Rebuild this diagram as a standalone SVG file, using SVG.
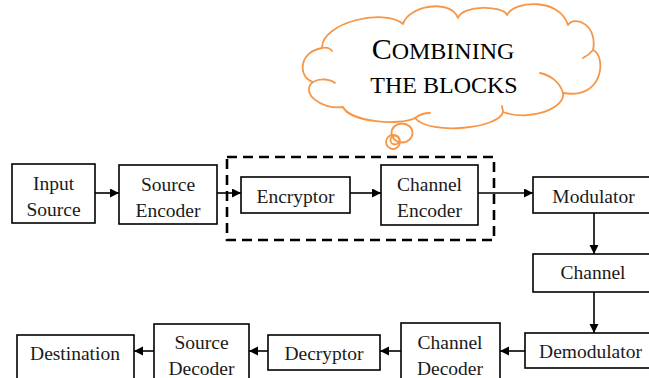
<svg xmlns="http://www.w3.org/2000/svg" width="649" height="378" viewBox="0 0 649 378">
  <style>
    .box { fill: #fff; stroke: #000; stroke-width: 1.6; }
    .lbl { font-family: "Liberation Serif", "Times New Roman", serif; font-size: 19.5px; fill: #1a1a1a; text-anchor: middle; }
    .wire { stroke: #000; stroke-width: 1.6; fill: none; marker-end: url(#head); }
    .cloud { fill: #fff; stroke: #F79646; stroke-width: 1.8; stroke-linejoin: round; stroke-linecap: round; }
    .curl { fill: none; stroke: #F79646; stroke-width: 1.8; stroke-linecap: round; }
    .ctext { font-family: "Liberation Serif", "Times New Roman", serif; fill: #000; text-anchor: middle; }
  </style>
  <defs>
    <marker id="head" markerUnits="userSpaceOnUse" markerWidth="10" markerHeight="10" refX="9" refY="4.5" orient="auto">
      <path d="M0,0 L9,4.5 L0,9 z" fill="#000"/>
    </marker>
  </defs>
  <rect width="649" height="378" fill="#fff"/>

  <!-- thought cloud -->
  <g id="cloud">
    <path class="cloud" d="M313,82 C298,78 298,52 322,48 C322,22 385,8 403,24 C408,6 450,-2 458,18 C462,5 503,5 507,15 C515,0 560,-2 568,25 C575,15 598,25 593,50 C606,55 605,100 563,93 C566,108 530,122 503,112 C500,128 430,136 415,118 C400,126 350,122 343,107 C320,110 300,92 313,82 Z"/>
    <path class="curl" d="M313,82 C320,78 330,79 335,83"/>
    <path class="curl" d="M322,48 C326,47 330,48 332,51"/>
    <path class="curl" d="M593,50 C590,54 587,56 583,58"/>
    <path class="curl" d="M563,93 C560,82 550,75 540,73"/>
    <path class="curl" d="M503,112 C503,110 502,108 502,106"/>
    <path class="curl" d="M415,118 C420,114 425,113 430,113"/>
    <ellipse class="curl" cx="402" cy="133" rx="10.5" ry="9.5"/>
    <circle class="curl" cx="393" cy="142" r="7"/>
    <circle class="curl" cx="395" cy="140" r="4.5"/>
    <text class="ctext" x="443" y="59"><tspan font-size="30">C</tspan><tspan font-size="24">OMBINING</tspan></text>
    <text class="ctext" x="444" y="93" font-size="24">THE BLOCKS</text>
  </g>

  <!-- grouping frame around encryptor and channel encoder -->
  <rect id="combined" x="227" y="157" width="267" height="83" fill="none" stroke="#000" stroke-width="2.6" stroke-dasharray="10,6"/>

  <!-- connectors -->
  <g id="connectors">
    <path class="wire" d="M95,193 H119"/>
    <path class="wire" d="M217,193 H241"/>
    <path class="wire" d="M350,193 H381"/>
    <path class="wire" d="M478,193 H533"/>
    <path class="wire" d="M594,213 V254"/>
    <path class="wire" d="M594,292 V333"/>
    <path class="wire" d="M525,351 H500"/>
    <path class="wire" d="M401,351 H380"/>
    <path class="wire" d="M268,351 H249"/>
    <path class="wire" d="M154,351 H134"/>
  </g>

  <!-- transmitter chain -->
  <g id="input-source">
    <rect class="box" x="12" y="164" width="83" height="59"/>
    <text class="lbl" x="53.5" y="190">Input</text>
    <text class="lbl" x="53.5" y="216">Source</text>
  </g>
  <g id="source-encoder">
    <rect class="box" x="119" y="165" width="98" height="59"/>
    <text class="lbl" x="168" y="191">Source</text>
    <text class="lbl" x="168" y="217">Encoder</text>
  </g>
  <g id="encryptor">
    <rect class="box" x="241" y="177" width="109" height="36"/>
    <text class="lbl" x="295.5" y="203">Encryptor</text>
  </g>
  <g id="channel-encoder">
    <rect class="box" x="381" y="165" width="97" height="60"/>
    <text class="lbl" x="429.5" y="191">Channel</text>
    <text class="lbl" x="429.5" y="217">Encoder</text>
  </g>
  <g id="modulator">
    <rect class="box" x="533" y="177" width="130" height="36"/>
    <text class="lbl" x="593.5" y="203">Modulator</text>
  </g>
  <g id="channel">
    <rect class="box" x="533" y="254" width="130" height="38"/>
    <text class="lbl" x="593" y="279">Channel</text>
  </g>

  <!-- receiver chain -->
  <g id="demodulator">
    <rect class="box" x="525" y="333" width="138" height="35"/>
    <text class="lbl" x="590.5" y="358">Demodulator</text>
  </g>
  <g id="channel-decoder">
    <rect class="box" x="401" y="323" width="99" height="70"/>
    <text class="lbl" x="450" y="349">Channel</text>
    <text class="lbl" x="450" y="375">Decoder</text>
  </g>
  <g id="decryptor">
    <rect class="box" x="268" y="335" width="112" height="35"/>
    <text class="lbl" x="324" y="360">Decryptor</text>
  </g>
  <g id="source-decoder">
    <rect class="box" x="154" y="324" width="95" height="70"/>
    <text class="lbl" x="201.5" y="349">Source</text>
    <text class="lbl" x="201.5" y="375">Decoder</text>
  </g>
  <g id="destination">
    <rect class="box" x="17" y="335" width="117" height="60"/>
    <text class="lbl" x="75" y="360">Destination</text>
  </g>
</svg>
